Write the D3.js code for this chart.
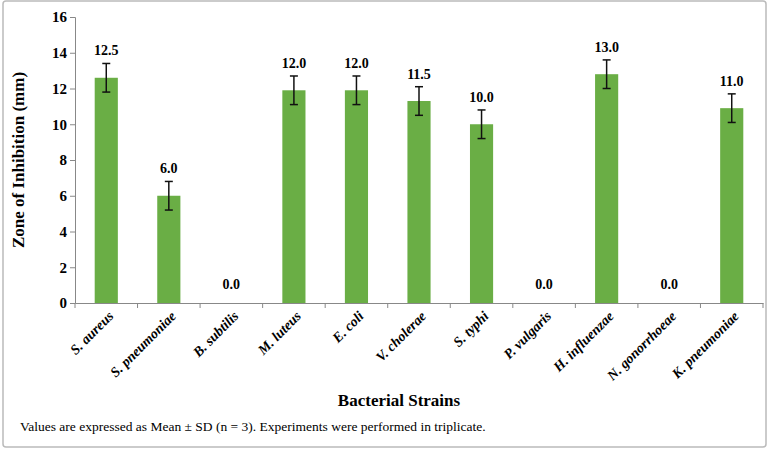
<!DOCTYPE html>
<html><head><meta charset="utf-8">
<script src="https://cdn.jsdelivr.net/npm/d3@7"></script>
<style>body{margin:0;background:#fff}text{font-family:"Liberation Serif","Times New Roman",serif}</style>
</head><body><svg id="chart" width="769" height="450"></svg>
<script>
const strains = ["S. aureus","S. pneumoniae","B. subtilis","M. luteus","E. coli","V. cholerae","S. typhi","P. vulgaris","H. influenzae","N. gonorrhoeae","K. pneumoniae"];
const means = [12.6, 6.0, 0, 11.9, 11.9, 11.3, 10.0, 0, 12.8, 0, 10.9];
const sds = [0.8, 0.8, 0, 0.8, 0.8, 0.8, 0.8, 0, 0.8, 0, 0.8];
const valueLabels = ["12.5","6.0","0.0","12.0","12.0","11.5","10.0","0.0","13.0","0.0","11.0"];
const yTicks = [0,2,4,6,8,10,12,14,16];

const svg = d3.select("#chart");
const mLeft = 75, mRight = 763, mTop = 17, mBottom = 303;

svg.append("rect").attr("x",3).attr("y",1).attr("width",763).attr("height",446)
  .attr("fill","none").attr("stroke","#bbb").attr("stroke-width",1.5).attr("rx",3);

const x = d3.scaleBand().domain(strains).range([mLeft, mRight]).paddingInner(0.63).paddingOuter(0.315);
const y = d3.scaleLinear().domain([0,16]).range([mBottom, mTop]);

const yAxis = svg.append("g").attr("transform",`translate(${mLeft},0)`)
  .call(d3.axisLeft(y).tickValues(yTicks).tickSize(5));
yAxis.selectAll("text").attr("font-size",15).attr("font-weight","bold").attr("fill","#000");
yAxis.selectAll("line,path").attr("stroke","#888");

const xb = d3.scaleBand().domain(strains).range([mLeft, mRight]);
const xAxis = svg.append("g").attr("transform",`translate(0,${mBottom})`)
  .call(d3.axisBottom(xb).tickSize(0).tickFormat(""));
xAxis.select("path").attr("stroke","#888");
svg.append("g").selectAll("line").data(d3.range(strains.length+1)).join("line")
  .attr("x1",i=>mLeft+i*xb.step()).attr("x2",i=>mLeft+i*xb.step())
  .attr("y1",mBottom).attr("y2",mBottom+5).attr("stroke","#888");

svg.append("g").selectAll("rect").data(strains).join("rect")
  .attr("x",d=>x(d)).attr("width",x.bandwidth())
  .attr("y",(d,i)=>y(means[i])).attr("height",(d,i)=>y(0)-y(means[i]))
  .attr("fill","#6aae45");

const eb = svg.append("g").attr("stroke","#111").attr("stroke-width",1.5);
strains.forEach((d,i)=>{
  if(!sds[i]) return;
  const cx = x(d)+x.bandwidth()/2;
  eb.append("line").attr("x1",cx).attr("x2",cx).attr("y1",y(means[i]+sds[i])).attr("y2",y(means[i]-sds[i]));
  [means[i]+sds[i], means[i]-sds[i]].forEach(v=>eb.append("line").attr("x1",cx-4).attr("x2",cx+4).attr("y1",y(v)).attr("y2",y(v)));
});

svg.append("g").selectAll("text").data(strains).join("text")
  .attr("x",d=>x(d)+x.bandwidth()/2)
  .attr("y",(d,i)=>sds[i] ? y(means[i]+sds[i])-8 : y(0)-14)
  .attr("text-anchor","middle").attr("font-size",14).attr("font-weight","bold")
  .text((d,i)=>valueLabels[i]);

svg.append("g").selectAll("text").data(strains).join("text")
  .attr("transform",d=>`translate(${x(d)+x.bandwidth()/2+8},${mBottom+14}) rotate(-45)`)
  .attr("text-anchor","end").attr("font-size",14).attr("font-weight","bold").attr("font-style","italic")
  .text(d=>d);

svg.append("text").attr("x",(mLeft+mRight)/2-20).attr("y",406).attr("text-anchor","middle")
  .attr("font-size",17).attr("font-weight","bold").text("Bacterial Strains");
svg.append("text").attr("transform",`translate(24,${(mTop+mBottom)/2}) rotate(-90)`).attr("text-anchor","middle")
  .attr("font-size",17).attr("font-weight","bold").text("Zone of Inhibition (mm)");
svg.append("text").attr("x",20).attr("y",431).attr("font-size",13.5)
  .text("Values are expressed as Mean ± SD (n = 3). Experiments were performed in triplicate.");
</script></body></html>
